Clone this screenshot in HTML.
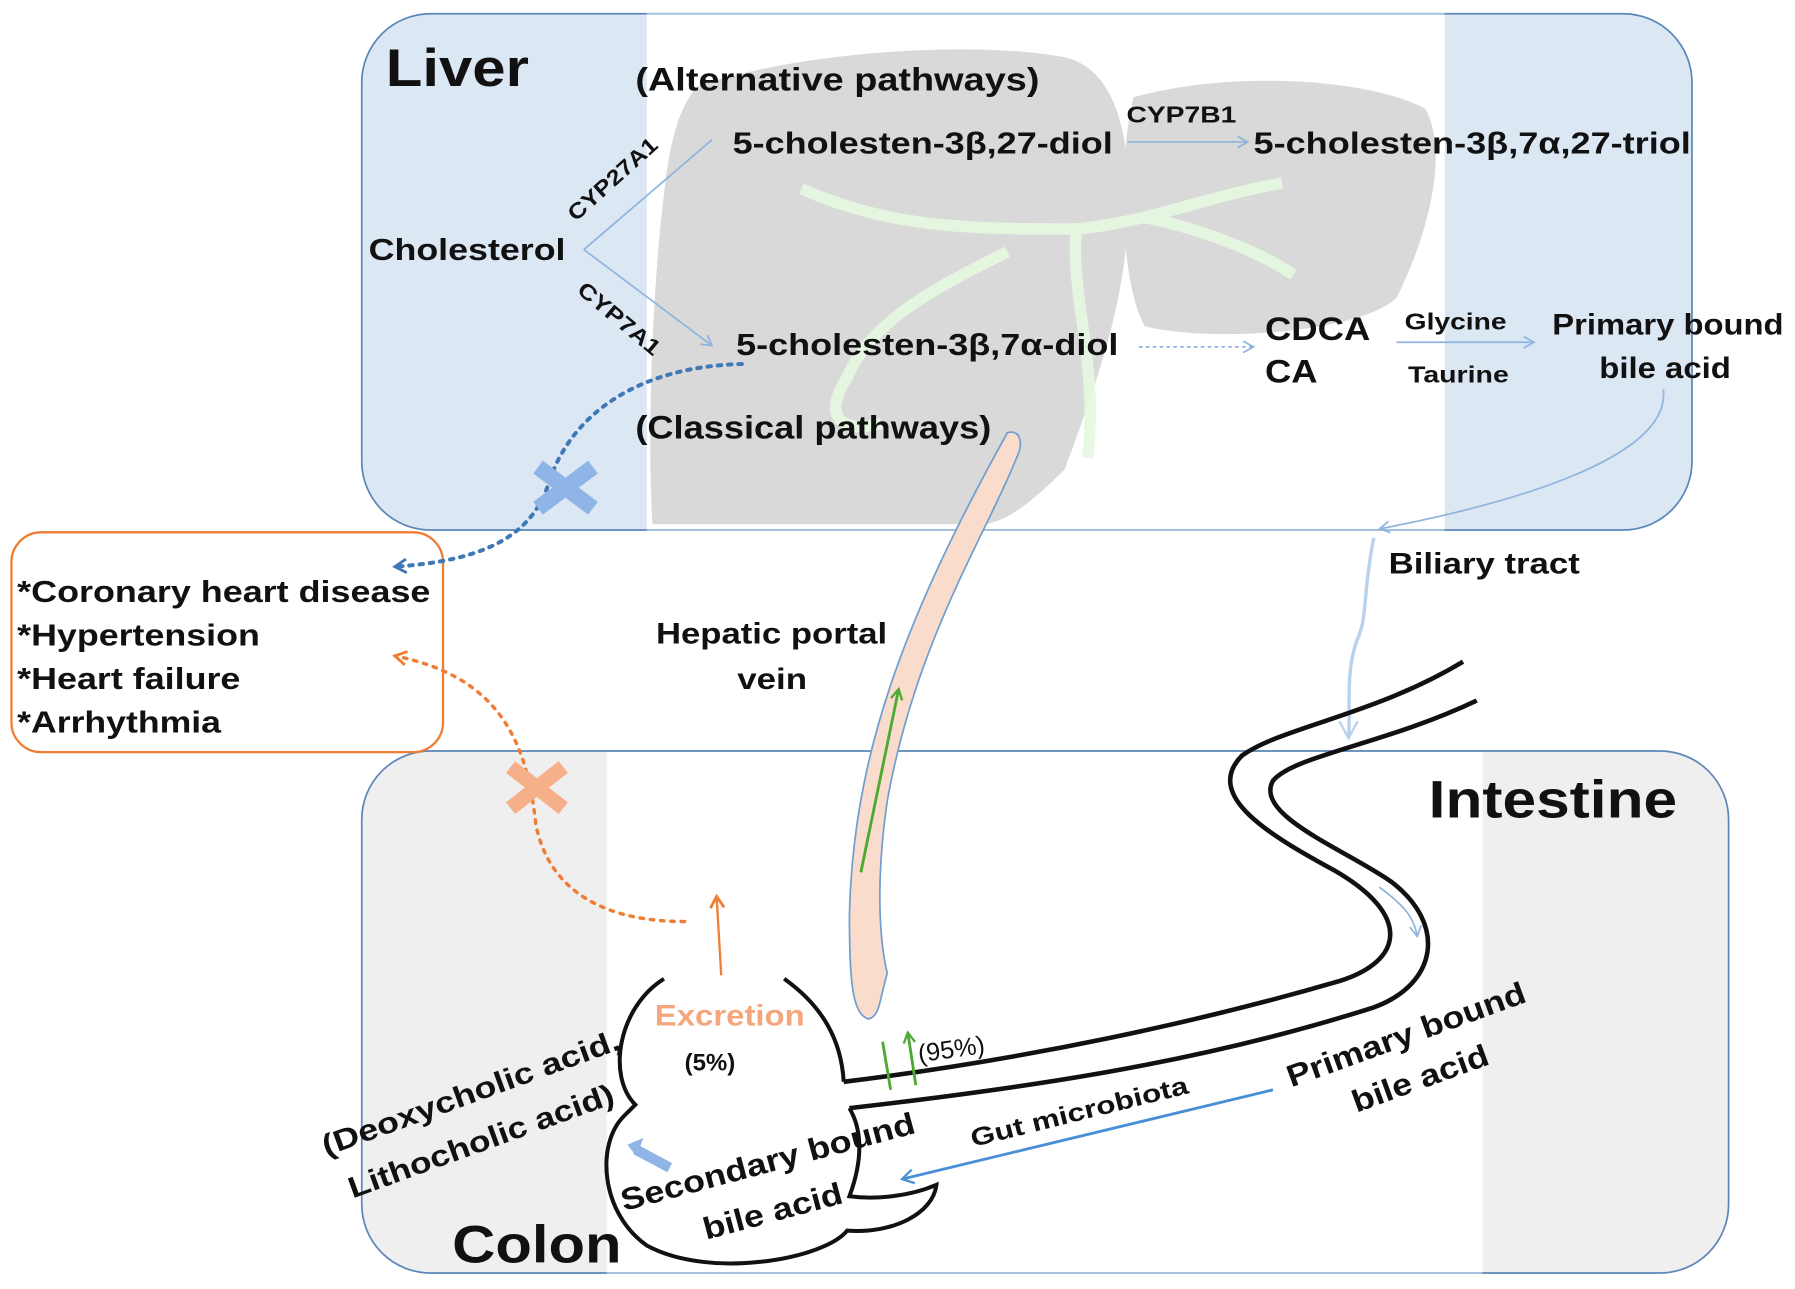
<!DOCTYPE html>
<html><head><meta charset="utf-8"><style>html,body{margin:0;padding:0;background:#fff}svg{display:block}text{font-family:"Liberation Sans",Arial,sans-serif;font-weight:bold;fill:#111}</style></head>
<body>
<svg width="1795" height="1289" viewBox="0 0 1568 1126" preserveAspectRatio="none" xmlns="http://www.w3.org/2000/svg">
<defs>
<marker id="ab" markerWidth="12" markerHeight="12" refX="10" refY="6" orient="auto" markerUnits="userSpaceOnUse"><path d="M1,1 L10,6 L1,11" fill="none" stroke="#8fb4dd" stroke-width="1.5"/></marker>
<marker id="ab2" markerWidth="16" markerHeight="16" refX="12" refY="8" orient="auto" markerUnits="userSpaceOnUse"><path d="M2,2 L12,8 L2,14" fill="none" stroke="#3f78b5" stroke-width="2.5"/></marker>
<marker id="ao" markerWidth="16" markerHeight="16" refX="12" refY="8" orient="auto" markerUnits="userSpaceOnUse"><path d="M2,2 L12,8 L2,14" fill="none" stroke="#ef7d33" stroke-width="2.5"/></marker>
<marker id="ag" markerWidth="12" markerHeight="12" refX="10" refY="6" orient="auto" markerUnits="userSpaceOnUse"><path d="M1,1 L10,6 L1,11" fill="none" stroke="#4caa32" stroke-width="2"/></marker>
<marker id="ab3" markerWidth="14" markerHeight="14" refX="11" refY="7" orient="auto" markerUnits="userSpaceOnUse"><path d="M1,1 L11,7 L1,13" fill="none" stroke="#4a8fd6" stroke-width="2"/></marker>
</defs>
<rect x="316" y="12" width="1162" height="451" rx="60" fill="#dce7f4" stroke="#5b87b8" stroke-width="1.5"/>
<rect x="565" y="13" width="697" height="449" fill="#fff"/>
<path d="M565,12 H1262 M565,463 H1262" stroke="#a9c4e0" stroke-width="1.5"/>
<path d="M610,75 C700,45 850,35 930,50 C975,60 990,120 985,200 C980,270 960,330 930,410 C900,440 880,455 860,458 L570,458 C565,380 570,250 580,170 C585,120 595,90 610,75 Z" fill="#d9d9d9"/>
<path d="M990,85 C1080,60 1200,70 1245,95 C1265,130 1250,200 1220,260 C1190,290 1060,300 1000,285 C980,250 975,150 990,85 Z" fill="#d9d9d9"/>
<path d="M700,165 C780,200 850,200 940,200 C1000,195 1060,170 1120,160 M940,200 C935,260 960,320 950,400 M880,220 C820,250 760,280 740,330 C720,360 730,380 770,370 M1000,190 C1050,200 1100,220 1130,240" stroke="#e6f8e0" stroke-width="10" fill="none" opacity="0.9"/>
<rect x="316" y="656" width="1194" height="456" rx="60" fill="#efefef" stroke="#5b87b8" stroke-width="1.5"/>
<rect x="530" y="657" width="765" height="454" fill="#fff"/>
<path d="M530,1112 H1295" stroke="#a9c4e0" stroke-width="1.5"/>
<rect x="10" y="465" width="377" height="192" rx="26" fill="#fff" stroke="#ef7d33" stroke-width="2"/>
<g lengthAdjust="spacingAndGlyphs">
<text x="15" y="526" font-size="27" textLength="361" lengthAdjust="spacingAndGlyphs">*Coronary heart disease</text>
<text x="15" y="564" font-size="27" textLength="212" lengthAdjust="spacingAndGlyphs">*Hypertension</text>
<text x="15" y="602" font-size="27" textLength="195" lengthAdjust="spacingAndGlyphs">*Heart failure</text>
<text x="15" y="640" font-size="27" textLength="178" lengthAdjust="spacingAndGlyphs">*Arrhythmia</text>
<text x="337" y="75" font-size="46" textLength="125" lengthAdjust="spacingAndGlyphs">Liver</text>
<text x="555" y="79" font-size="28" textLength="353" lengthAdjust="spacingAndGlyphs">(Alternative pathways)</text>
<text x="555" y="383" font-size="28" textLength="311" lengthAdjust="spacingAndGlyphs">(Classical pathways)</text>
<text x="322" y="227" font-size="27" textLength="172" lengthAdjust="spacingAndGlyphs">Cholesterol</text>
<text x="640" y="134" font-size="27" textLength="332" lengthAdjust="spacingAndGlyphs">5-cholesten-3β,27-diol</text>
<text x="1095" y="134" font-size="27" textLength="382" lengthAdjust="spacingAndGlyphs">5-cholesten-3β,7α,27-triol</text>
<text x="643" y="310" font-size="27" textLength="334" lengthAdjust="spacingAndGlyphs">5-cholesten-3β,7α-diol</text>
<text x="984" y="107" font-size="20" textLength="96" lengthAdjust="spacingAndGlyphs">CYP7B1</text>
<text x="503" y="194" font-size="19" textLength="98" lengthAdjust="spacingAndGlyphs" transform="rotate(-42 503 194)">CYP27A1</text>
<text x="503" y="255" font-size="19" textLength="88" lengthAdjust="spacingAndGlyphs" transform="rotate(40 503 255)">CYP7A1</text>
<text x="1105" y="297" font-size="28" textLength="92" lengthAdjust="spacingAndGlyphs">CDCA</text>
<text x="1105" y="334" font-size="28" textLength="46" lengthAdjust="spacingAndGlyphs">CA</text>
<text x="1227" y="288" font-size="20" textLength="89" lengthAdjust="spacingAndGlyphs">Glycine</text>
<text x="1230" y="334" font-size="20" textLength="88" lengthAdjust="spacingAndGlyphs">Taurine</text>
<text x="1356" y="292" font-size="26" textLength="202" lengthAdjust="spacingAndGlyphs">Primary bound</text>
<text x="1397" y="330" font-size="26" textLength="115" lengthAdjust="spacingAndGlyphs">bile acid</text>
</g>
<path d="M510,218 L622,122 M510,218 L622,302" stroke="#8fb4dd" stroke-width="1.5" fill="none" marker-end="url(#ab)"/>
<path d="M985,124 L1090,124" stroke="#8fb4dd" stroke-width="1.5" marker-end="url(#ab)"/>
<path d="M995,303 L1095,303" stroke="#8fb4dd" stroke-width="1.5" stroke-dasharray="3,3" marker-end="url(#ab)"/>
<path d="M1220,299 L1340,299" stroke="#8fb4dd" stroke-width="1.5" marker-end="url(#ab)"/>
<path d="M1453,340 C1460,400 1320,440 1205,462" stroke="#8fb4dd" stroke-width="1.5" fill="none" marker-end="url(#ab)"/>
<text x="1213" y="501" font-size="26" textLength="167" lengthAdjust="spacingAndGlyphs">Biliary tract</text>
<path d="M1200,470 C1190,520 1195,540 1185,560 C1175,590 1180,620 1178,645" stroke="#b8d2ec" stroke-width="3" fill="none"/>
<path d="M1170,630 L1178,645 L1186,630" stroke="#b8d2ec" stroke-width="2" fill="none"/>
<path d="M648,318 C560,320 500,360 480,420 C465,470 420,490 345,495" stroke="#3f78b5" stroke-width="3.5" stroke-dasharray="3,6" stroke-linecap="round" fill="none" marker-end="url(#ab2)"/>
<path d="M470,408 L518,444 M470,444 L518,408" stroke="#8fb4e6" stroke-width="14"/>
<path d="M598,805 C530,805 480,780 468,720 C460,640 430,590 345,573" stroke="#ef7d33" stroke-width="3" stroke-dasharray="3,6" stroke-linecap="round" fill="none" marker-end="url(#ao)"/>
<path d="M446,670 L492,706 M446,706 L492,670" stroke="#f5b089" stroke-width="13"/>
<path d="M630,852 L626,783" stroke="#ef7d33" stroke-width="2" fill="none" marker-end="url(#ao)"/>
<path d="M880,378 C890,375 895,385 888,400 C860,470 800,560 775,700 C765,770 768,820 775,850 L770,870 C768,880 765,890 758,890 C745,885 742,860 742,800 C745,660 790,540 880,378 Z" fill="#f9dccb" stroke="#6f9fd0" stroke-width="1.5"/>
<path d="M752,762 L785,602" stroke="#4caa32" stroke-width="2.5" marker-end="url(#ag)"/>
<text x="573" y="562" font-size="26" textLength="202" lengthAdjust="spacingAndGlyphs">Hepatic portal</text>
<text x="644" y="602" font-size="26" textLength="61" lengthAdjust="spacingAndGlyphs">vein</text>
<path d="M1278,578 C1200,625 1120,635 1085,660 C1050,695 1110,730 1165,760 C1235,800 1225,840 1170,857 C1050,892 900,925 737,945" stroke="#111" stroke-width="4" fill="none"/>
<path d="M1290,612 C1210,650 1130,660 1112,682 C1095,712 1175,742 1215,770 C1265,808 1255,860 1200,880 C1050,928 900,950 742,968" stroke="#111" stroke-width="4" fill="none"/>
<path d="M1205,775 C1225,790 1235,800 1238,818" stroke="#8fb4dd" stroke-width="1.5" fill="none" marker-end="url(#ab)"/>
<path d="M580,855 C540,880 530,940 555,965 L545,975 C520,1000 525,1060 565,1088 C620,1118 720,1100 740,1075 C780,1078 815,1060 818,1035 C795,1045 765,1048 742,1045 C755,1010 752,985 742,968" stroke="#111" stroke-width="3.5" fill="none"/>
<path d="M685,855 C720,880 735,910 737,945" stroke="#111" stroke-width="3.5" fill="none"/>
<text x="572" y="896" font-size="26" style="fill:#f4a77c" textLength="131" lengthAdjust="spacingAndGlyphs">Excretion</text>
<text x="598" y="935" font-size="21">(5%)</text>
<path d="M778,952 L771,910 M800,948 L793,902" stroke="#4caa32" stroke-width="2.5" marker-end="url(#ag)"/>
<text x="803" y="928" font-size="22" style="font-weight:normal" transform="rotate(-8 803 928)">(95%)</text>
<path d="M1112,952 L788,1030" stroke="#4a8fd6" stroke-width="2.5" marker-end="url(#ab3)"/>
<text x="850" y="1002" font-size="22" textLength="195" lengthAdjust="spacingAndGlyphs" transform="rotate(-14 850 1002)">Gut microbiota</text>
<text x="1128" y="950" font-size="27" textLength="220" lengthAdjust="spacingAndGlyphs" transform="rotate(-20 1128 950)">Primary bound</text>
<text x="1185" y="972" font-size="27" textLength="125" lengthAdjust="spacingAndGlyphs" transform="rotate(-20 1185 972)">bile acid</text>
<text x="545" y="1058" font-size="27" textLength="265" lengthAdjust="spacingAndGlyphs" transform="rotate(-15 545 1058)">Secondary bound</text>
<text x="617" y="1083" font-size="27" textLength="125" lengthAdjust="spacingAndGlyphs" transform="rotate(-15 617 1083)">bile acid</text>
<text x="285" y="1010" font-size="26" textLength="275" lengthAdjust="spacingAndGlyphs" transform="rotate(-20 285 1010)">(Deoxycholic acid,</text>
<text x="308" y="1047" font-size="26" textLength="245" lengthAdjust="spacingAndGlyphs" transform="rotate(-20 308 1047)">Lithocholic acid)</text>
<path d="M585,1020 L555,1004" stroke="#8fb4e6" stroke-width="9"/>
<path d="M548,1000 L562,994 L556,1010 Z" fill="#8fb4e6"/>
<text x="395" y="1103" font-size="46" textLength="148" lengthAdjust="spacingAndGlyphs">Colon</text>
<text x="1248" y="714" font-size="46" textLength="217" lengthAdjust="spacingAndGlyphs">Intestine</text>
</svg>
</body></html>
